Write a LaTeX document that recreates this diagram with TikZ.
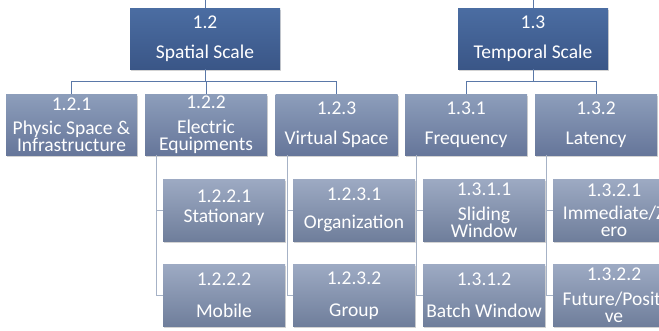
\documentclass[tikz,border=0pt]{standalone}
\usepackage{fontspec}
\setmainfont{Carlito}
\usetikzlibrary{shadows}
\definecolor{headtop}{HTML}{4B6DA2}
\definecolor{headbot}{HTML}{3A5687}
\definecolor{midtop}{HTML}{8D9EBB}
\definecolor{midbot}{HTML}{66769A}
\definecolor{lowtop}{HTML}{9DAAC3}
\definecolor{lowbot}{HTML}{6F7E9B}
\definecolor{wirehead}{HTML}{5A78A8}
\definecolor{wirelow}{HTML}{A6B2C6}
\tikzset{
  box/.style={inner sep=0pt, align=center, text=white,
    font=\fontsize{19.5}{17}\selectfont,
    drop shadow={shadow xshift=1pt, shadow yshift=-1.5pt, opacity=.35}},
  headbox/.style={box, minimum width=150pt, minimum height=61pt,
    top color=headtop, bottom color=headbot},
  midbox/.style={box, minimum width=122pt, minimum height=61pt,
    top color=midtop, bottom color=midbot},
  lowbox/.style={box, minimum width=122pt, minimum height=62pt,
    top color=lowtop, bottom color=lowbot},
  wire/.style={draw=wirehead, line width=1pt},
  leafwire/.style={draw=wirelow, line width=1pt}
}
\begin{document}
\begin{tikzpicture}[x=1pt, y=-1pt]
    \useasboundingbox (0,0) rectangle (659,330);
    \clip (0,0) rectangle (659,330);

    % top level
    \coordinate (sin) at (205,0);
    \coordinate (tin) at (533,0);
    \node [headbox] (s) at (205,38.5) {1.2\\[13pt]Spatial Scale};
    \node [headbox] (t) at (533,38.5) {1.3\\[13pt]Temporal Scale};

    % second level
    \node [midbox, minimum width=131pt] (s1) at (71.5,124.5) {1.2.1\\[7pt]Physic Space \&\\Infrastructure};
    \node [midbox] (s2) at (206,124.5) {1.2.2\\[8pt]Electric\\Equipments};
    \node [midbox] (s3) at (336.5,124.5) {1.2.3\\[13pt]Virtual Space};
    \node [midbox] (t1) at (466,124.5) {1.3.1\\[13pt]Frequency};
    \node [midbox] (t2) at (596,124.5) {1.3.2\\[13pt]Latency};

    % third level
    \node [lowbox] (s21) at (224,210) {\mbox{}\\[-8pt]1.2.2.1\\[3pt]Stationary};
    \node [lowbox] (s22) at (224,295.5) {1.2.2.2\\[15pt]Mobile};
    \node [lowbox] (s31) at (354,210) {1.2.3.1\\[11pt]Organization};
    \node [lowbox] (s32) at (354,295.5) {1.2.3.2\\[15pt]Group};
    \node [lowbox] (t11) at (484,210) {1.3.1.1\\[8pt]Sliding\\Window};
    \node [lowbox] (t12) at (484,295.5) {1.3.1.2\\[15pt]Batch Window};
    \node [lowbox] (t21) at (614,210) {1.3.2.1\\[6pt]Immediate/Z\\ero};
    \node [lowbox] (t22) at (614,295.5) {1.3.2.2\\[8pt]Future/Positi\\ve};

    \draw [wire] (sin) -- (s.north);
    \draw [wire] (tin) -- (t.north);
    \draw [wire] (s.south) -- ++(0,12) -| (s1.north);
    \draw [wire] (s.south) -- ++(0,12) -| (s2.north);
    \draw [wire] (s.south) -- ++(0,12) -| (s3.north);
    \draw [wire] (t.south) -- ++(0,12) -| (t1.north);
    \draw [wire] (t.south) -- ++(0,12) -| (t2.north);

    \draw [leafwire] (s2.south west) ++(12,0) |- (s21.west);
    \draw [leafwire] (s2.south west) ++(12,0) |- (s22.west);
    \draw [leafwire] (s3.south west) ++(12,0) |- (s31.west);
    \draw [leafwire] (s3.south west) ++(12,0) |- (s32.west);
    \draw [leafwire] (t1.south west) ++(12,0) |- (t11.west);
    \draw [leafwire] (t1.south west) ++(12,0) |- (t12.west);
    \draw [leafwire] (t2.south west) ++(12,0) |- (t21.west);
    \draw [leafwire] (t2.south west) ++(12,0) |- (t22.west);
  \end{tikzpicture}
\end{document}
